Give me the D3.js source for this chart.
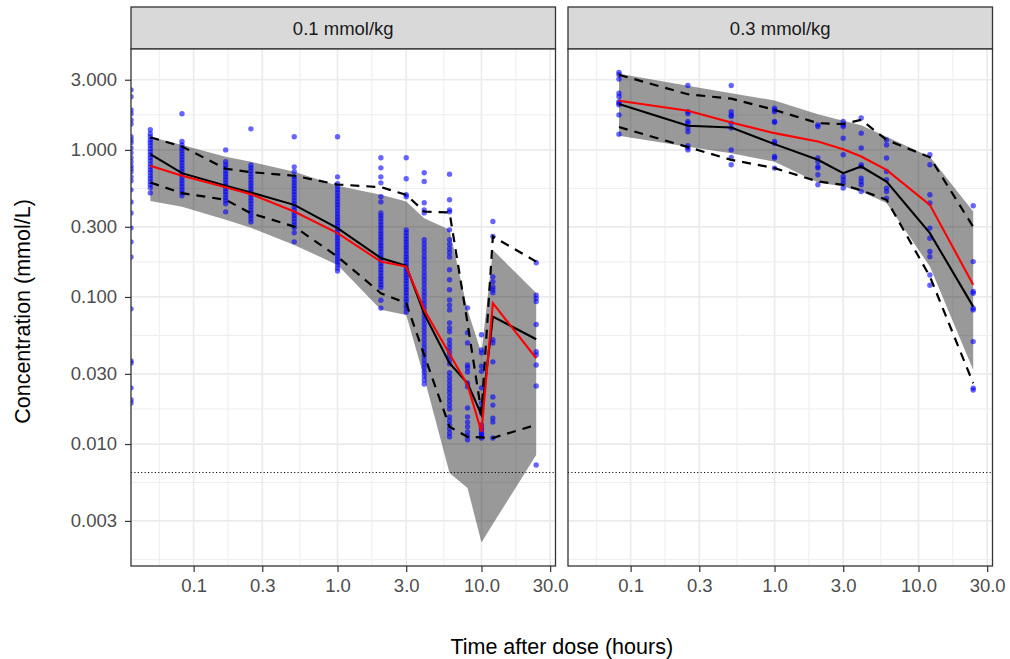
<!DOCTYPE html>
<html>
<head>
<meta charset="utf-8">
<script src="https://cdn.jsdelivr.net/npm/d3@7"></script>
<style>
  html, body { margin: 0; padding: 0; background: #ffffff; }
  svg { display: block; font-family: "Liberation Sans", Arial, Helvetica, sans-serif; }
</style>
</head>
<body>
<svg id="chart" width="1010" height="659"></svg>
<script>
// ---------------- data ----------------
const doseLabels = ["0.1 mmol/kg", "0.3 mmol/kg"];
const xTickValues = [0.1, 0.3, 1, 3, 10, 30];
const xTickLabels = ["0.1", "0.3", "1.0", "3.0", "10.0", "30.0"];
const yTickValues = [0.003, 0.01, 0.03, 0.1, 0.3, 1, 3];
const yTickLabels = ["0.003", "0.010", "0.030", "0.100", "0.300", "1.000", "3.000"];
const lloq = 0.0064;

// 0.1 mmol/kg : binned summaries
const binTimesLow     = [0.05, 0.083, 0.167, 0.25, 0.5, 1, 2, 3, 4, 6, 8, 10, 12, 24];
const obsMedianLow    = [0.936, 0.695, 0.57, 0.513, 0.423, 0.294, 0.184, 0.163, 0.0767, 0.0355, 0.0259, 0.0158, 0.0736, 0.0516];
const obsP05Low       = [0.60, 0.508, 0.458, 0.371, 0.301, 0.188, 0.106, 0.0907, 0.0403, 0.0131, 0.0112, 0.0111, 0.011, 0.0135];
const obsP95Low       = [1.22, 1.055, 0.744, 0.706, 0.667, 0.582, 0.558, 0.495, 0.381, 0.375, 0.0665, 0.0163, 0.258, 0.174];
const predMedianLow   = [0.78, 0.667, 0.558, 0.50, 0.381, 0.272, 0.174, 0.161, 0.0817, 0.041, 0.0252, 0.0121, 0.0907, 0.0383];
const predLowerLow    = [0.45, 0.41, 0.335, 0.295, 0.226, 0.165, 0.082, 0.0755, 0.0282, 0.00636, 0.00502, 0.00214, 0.00286, 0.00843];
const predUpperLow    = [1.23, 1.08, 0.90, 0.83, 0.71, 0.57, 0.495, 0.446, 0.343, 0.286, 0.0817, 0.0416, 0.209, 0.1066];

// 0.1 mmol/kg : observed concentrations by nominal time (0 = pre-dose)
const obsTimesLow = [0, 0.05, 0.083, 0.167, 0.25, 0.5, 1, 2, 3, 4, 6, 8, 10, 12, 24];
const obsConcLow = [
  [2.56, 2.30, 1.87, 1.76, 1.60, 1.50, 1.23, 1.17, 1.12, 1.03, 0.956, 0.884, 0.830, 0.779, 0.744, 0.710, 0.656, 0.616, 0.535, 0.443, 0.373, 0.295, 0.237, 0.187, 0.083, 0.0367, 0.0356, 0.0241, 0.0200, 0.0190],
  [1.37, 1.29, 1.23, 1.17, 1.12, 1.07, 1.02, 0.971, 0.926, 0.884, 0.843, 0.804, 0.767, 0.732, 0.699, 0.666, 0.636, 0.607, 0.579, 0.552, 0.510],
  [1.76, 1.14, 1.08, 1.03, 0.985, 0.94, 0.897, 0.856, 0.817, 0.779, 0.744, 0.71, 0.677, 0.646, 0.616, 0.588, 0.561, 0.535, 0.511, 0.487],
  [1.00, 0.83, 0.79, 0.755, 0.72, 0.687, 0.656, 0.626, 0.597, 0.57, 0.544, 0.519, 0.495, 0.472, 0.451, 0.43, 0.379],
  [1.39, 0.79, 0.755, 0.72, 0.687, 0.656, 0.626, 0.597, 0.57, 0.544, 0.519, 0.495, 0.472, 0.451, 0.43, 0.41, 0.391, 0.373, 0.356, 0.34, 0.324],
  [1.23, 0.767, 0.71, 0.656, 0.626, 0.597, 0.57, 0.544, 0.519, 0.495, 0.472, 0.451, 0.43, 0.41, 0.391, 0.373, 0.356, 0.34, 0.324, 0.309, 0.295, 0.273, 0.237],
  [1.23, 0.656, 0.588, 0.561, 0.535, 0.511, 0.487, 0.465, 0.443, 0.423, 0.404, 0.385, 0.367, 0.35, 0.334, 0.319, 0.304, 0.29, 0.277, 0.264, 0.252, 0.24, 0.229, 0.219, 0.209, 0.199, 0.19, 0.181, 0.173, 0.165, 0.157, 0.150],
  [0.884, 0.755, 0.656, 0.597, 0.48, 0.443, 0.373, 0.356, 0.34, 0.324, 0.309, 0.295, 0.281, 0.268, 0.256, 0.245, 0.233, 0.223, 0.213, 0.203, 0.194, 0.185, 0.177, 0.169, 0.161, 0.153, 0.146, 0.139, 0.133, 0.127, 0.121, 0.116, 0.095, 0.084],
  [0.884, 0.636, 0.495, 0.48, 0.286, 0.273, 0.26, 0.248, 0.237, 0.226, 0.216, 0.206, 0.196, 0.187, 0.179, 0.171, 0.163, 0.155, 0.148, 0.141, 0.135, 0.129, 0.123, 0.117, 0.112, 0.107, 0.102, 0.097, 0.093, 0.088, 0.084, 0.079],
  [0.70, 0.61, 0.437, 0.391, 0.373, 0.245, 0.23, 0.216, 0.203, 0.19, 0.179, 0.168, 0.158, 0.148, 0.139, 0.131, 0.123, 0.115, 0.108, 0.102, 0.0955, 0.0897, 0.0843, 0.0792, 0.0743, 0.0699, 0.0656, 0.0616, 0.0579, 0.0544, 0.0511, 0.048, 0.0451, 0.0423, 0.0398, 0.0373, 0.0351, 0.033, 0.0309, 0.029, 0.0273, 0.0256],
  [0.684, 0.458, 0.391, 0.379, 0.286, 0.245, 0.228, 0.213, 0.2, 0.187, 0.153, 0.131, 0.112, 0.0955, 0.088, 0.0817, 0.0667, 0.0616, 0.0579, 0.0511, 0.048, 0.0451, 0.0423, 0.0398, 0.0373, 0.0351, 0.0305, 0.0286, 0.0269, 0.0252, 0.0237, 0.0223, 0.0209, 0.0196, 0.0184, 0.0173, 0.0153, 0.0144, 0.0135, 0.0127, 0.0119, 0.0112],
  [0.0843, 0.0572, 0.0487, 0.0345, 0.033, 0.0309, 0.026, 0.0245, 0.0176, 0.0153, 0.0141, 0.0131, 0.0121, 0.0114, 0.0107],
  [0.0553, 0.0437, 0.0417, 0.0338, 0.0312, 0.0241, 0.019, 0.0176, 0.0163, 0.0135, 0.0129, 0.0125, 0.0119, 0.0117, 0.0113, 0.011],
  [0.326, 0.258, 0.137, 0.127, 0.117, 0.112, 0.107, 0.0512, 0.0487, 0.0362, 0.0209, 0.0184, 0.015, 0.0141, 0.011],
  [0.171, 0.103, 0.098, 0.093, 0.065, 0.0424, 0.0403, 0.0345, 0.0248, 0.0072]
];

// 0.3 mmol/kg : binned summaries
const binTimesHigh    = [0.083, 0.25, 0.5, 1, 2, 3, 4, 6, 12, 24];
const obsMedianHigh   = [2.05, 1.46, 1.42, 1.095, 0.856, 0.695, 0.771, 0.61, 0.2715, 0.086];
const obsP05High      = [1.43, 1.045, 0.856, 0.752, 0.61, 0.579, 0.53, 0.458, 0.1377, 0.0259];
const obsP95High      = [3.24, 2.39, 2.23, 1.87, 1.52, 1.50, 1.6, 1.17, 0.89, 0.30];
const predMedianHigh  = [2.16, 1.845, 1.535, 1.30, 1.14, 1.01, 0.902, 0.732, 0.423, 0.121];
const predLowerHigh   = [1.25, 1.05, 0.95, 0.83, 0.60, 0.564, 0.521, 0.435, 0.161, 0.0319];
const predUpperHigh   = [3.29, 2.73, 2.43, 2.17, 1.75, 1.58, 1.47, 1.23, 0.90, 0.381];

// 0.3 mmol/kg : observed concentrations by nominal time
const obsTimesHigh = [0.083, 0.25, 0.5, 1, 2, 3, 4, 6, 12, 24];
const obsConcHigh = [
  [3.36, 3.24, 3.03, 2.43, 2.31, 2.13, 2.08, 2.03, 1.73, 1.28],
  [2.74, 1.82, 1.76, 1.56, 1.52, 1.41, 1.33, 1.066, 1.033, 1.00],
  [2.74, 1.82, 1.73, 1.69, 1.52, 1.41, 1.00, 0.888, 0.792],
  [1.92, 1.87, 1.82, 1.56, 1.54, 1.14, 1.11, 0.902, 0.88, 0.752],
  [1.48, 1.44, 0.88, 0.834, 0.771, 0.752, 0.677, 0.579],
  [1.56, 1.48, 1.44, 1.20, 0.926, 0.659, 0.626, 0.594, 0.550],
  [1.65, 1.30, 1.03, 0.792, 0.771, 0.643, 0.610, 0.579, 0.521],
  [1.17, 1.08, 0.88, 0.713, 0.626, 0.550, 0.521, 0.470],
  [0.926, 0.792, 0.495, 0.435, 0.294, 0.251, 0.204, 0.188, 0.141, 0.120],
  [0.417, 0.174, 0.109, 0.106, 0.0839, 0.0817, 0.0497, 0.0240, 0.0233]
];

// ---------------- assemble panels ----------------
function bins(times, med, p05, p95, pmed, plo, phi) {
  return times.map((t, i) => ({ t, med: med[i], p05: p05[i], p95: p95[i], pmed: pmed[i], plo: plo[i], phi: phi[i] }));
}
function observations(times, conc) {
  const out = [];
  times.forEach((t, i) => conc[i].forEach(c => out.push({ t, c })));
  return out;
}
const panels = [
  { label: doseLabels[0],
    bins: bins(binTimesLow, obsMedianLow, obsP05Low, obsP95Low, predMedianLow, predLowerLow, predUpperLow),
    obs: observations(obsTimesLow, obsConcLow) },
  { label: doseLabels[1],
    bins: bins(binTimesHigh, obsMedianHigh, obsP05High, obsP95High, predMedianHigh, predLowerHigh, predUpperHigh),
    obs: observations(obsTimesHigh, obsConcHigh) }
];

// ---------------- layout ----------------
const W = 1010, H = 659;
const panelLefts = [131, 568];
const panelWidth = 424.5;
const panelTop = 49, panelBottom = 566;
const stripTop = 7;
const border = "#333333";
const gridColor = "#EBEBEB";
const tickFont = 18.5;
const titleFont = 21.5;

// log-scale limits with a 5% expansion in log space on each side
function expandLog([a, b], f = 0.05) {
  const la = Math.log10(a), lb = Math.log10(b), d = (lb - la) * f;
  return [Math.pow(10, la - d), Math.pow(10, lb + d)];
}
const allTimes = panels.flatMap(p => p.bins.map(b => b.t).concat(p.obs.map(o => o.t))).filter(t => t > 0);
const allConc = panels.flatMap(p => p.obs.map(o => o.c)
  .concat(p.bins.flatMap(b => [b.med, b.p05, b.p95, b.pmed, b.plo, b.phi])));
const xDomain = expandLog(d3.extent(allTimes));
const yDomain = expandLog(d3.extent(allConc));

const y = d3.scaleLog().domain(yDomain).range([panelBottom, panelTop]);

// ggplot-style minor breaks: midpoints between majors, extended one step past the ends
function minorBreaks(majors, domain) {
  const b = majors.map(Math.log10);
  const lim = domain.map(Math.log10);
  const step = b[1] - b[0];
  const ext = [b[0] - step, ...b, b[b.length - 1] + step];
  const mids = [];
  for (let i = 0; i < ext.length - 1; i++) mids.push((ext[i] + ext[i + 1]) / 2);
  return mids.filter(v => v >= lim[0] && v <= lim[1]).map(v => Math.pow(10, v));
}
const xMinor = minorBreaks(xTickValues, xDomain);
const yMinor = minorBreaks(yTickValues, yDomain);

const svg = d3.select("#chart");
svg.append("rect").attr("width", W).attr("height", H).attr("fill", "#ffffff");

panels.forEach((p, pi) => {
  const left = panelLefts[pi];
  const x = d3.scaleLog().domain(xDomain).range([left, left + panelWidth]);
  const g = svg.append("g");

  // strip
  g.append("rect")
    .attr("x", left).attr("y", stripTop)
    .attr("width", panelWidth).attr("height", panelTop - stripTop)
    .attr("fill", "#D9D9D9").attr("stroke", border).attr("stroke-width", 1.3);
  g.append("text")
    .attr("x", left + panelWidth / 2).attr("y", (stripTop + panelTop) / 2)
    .attr("text-anchor", "middle").attr("dominant-baseline", "central")
    .attr("font-size", tickFont).attr("fill", "#1A1A1A")
    .text(p.label);

  // clip region for the panel
  const clipId = "clip" + pi;
  g.append("clipPath").attr("id", clipId)
    .append("rect").attr("x", left).attr("y", panelTop)
    .attr("width", panelWidth).attr("height", panelBottom - panelTop);

  const body = g.append("g").attr("clip-path", `url(#${clipId})`);
  body.append("rect").attr("x", left).attr("y", panelTop)
    .attr("width", panelWidth).attr("height", panelBottom - panelTop).attr("fill", "#ffffff");

  // grid
  const grid = body.append("g");
  grid.selectAll(".xmin").data(xMinor).join("line")
    .attr("x1", d => x(d)).attr("x2", d => x(d)).attr("y1", panelTop).attr("y2", panelBottom)
    .attr("stroke", gridColor).attr("stroke-width", 0.9);
  grid.selectAll(".ymin").data(yMinor).join("line")
    .attr("y1", d => y(d)).attr("y2", d => y(d)).attr("x1", left).attr("x2", left + panelWidth)
    .attr("stroke", gridColor).attr("stroke-width", 0.9);
  grid.selectAll(".xmaj").data(xTickValues).join("line")
    .attr("x1", d => x(d)).attr("x2", d => x(d)).attr("y1", panelTop).attr("y2", panelBottom)
    .attr("stroke", gridColor).attr("stroke-width", 1.7);
  grid.selectAll(".ymaj").data(yTickValues).join("line")
    .attr("y1", d => y(d)).attr("y2", d => y(d)).attr("x1", left).attr("x2", left + panelWidth)
    .attr("stroke", gridColor).attr("stroke-width", 1.7);

  // prediction interval band
  const area = d3.area().x(d => x(d.t)).y0(d => y(d.plo)).y1(d => y(d.phi));
  body.append("path").datum(p.bins).attr("d", area)
    .attr("fill", "#000000").attr("fill-opacity", 0.4);

  // lower limit of quantification
  body.append("line")
    .attr("x1", left).attr("x2", left + panelWidth)
    .attr("y1", y(lloq)).attr("y2", y(lloq))
    .attr("stroke", "#000000").attr("stroke-width", 1.1)
    .attr("stroke-dasharray", "1.1,2.3");

  // observed concentrations (pre-dose samples sit on the left edge)
  body.append("g").selectAll("circle").data(p.obs).join("circle")
    .attr("cx", d => d.t > 0 ? x(d.t) : x.range()[0])
    .attr("cy", d => y(d.c))
    .attr("r", 2.7)
    .attr("fill", "#0000FF").attr("fill-opacity", 0.6);

  // observed percentiles and median, predicted median
  const lineOf = key => d3.line().x(d => x(d.t)).y(d => y(d[key]));
  body.append("path").datum(p.bins).attr("d", lineOf("p05"))
    .attr("fill", "none").attr("stroke", "#000").attr("stroke-width", 2.2).attr("stroke-dasharray", "9,7");
  body.append("path").datum(p.bins).attr("d", lineOf("p95"))
    .attr("fill", "none").attr("stroke", "#000").attr("stroke-width", 2.2).attr("stroke-dasharray", "9,7");
  body.append("path").datum(p.bins).attr("d", lineOf("med"))
    .attr("fill", "none").attr("stroke", "#000").attr("stroke-width", 2.1);
  body.append("path").datum(p.bins).attr("d", lineOf("pmed"))
    .attr("fill", "none").attr("stroke", "#FF0000").attr("stroke-width", 2.1);

  // panel border
  g.append("rect").attr("x", left).attr("y", panelTop)
    .attr("width", panelWidth).attr("height", panelBottom - panelTop)
    .attr("fill", "none").attr("stroke", border).attr("stroke-width", 1.3);

  // bottom axis
  const xAxis = d3.axisBottom(x).tickValues(xTickValues)
    .tickFormat((d, i) => xTickLabels[i]).tickSize(6).tickPadding(7);
  const gx = g.append("g").attr("transform", `translate(0,${panelBottom})`).call(xAxis);
  gx.select(".domain").remove();
  gx.selectAll(".tick line").attr("stroke", border).attr("stroke-width", 1.2);
  gx.selectAll(".tick text").attr("fill", "#4D4D4D").attr("font-size", tickFont)
    .attr("font-family", "'Liberation Sans', Arial, sans-serif");

  // left axis on the first panel only
  if (pi === 0) {
    const yAxis = d3.axisLeft(y).tickValues(yTickValues)
      .tickFormat((d, i) => yTickLabels[i]).tickSize(6).tickPadding(8);
    const gy = g.append("g").attr("transform", `translate(${left},0)`).call(yAxis);
    gy.select(".domain").remove();
    gy.selectAll(".tick line").attr("stroke", border).attr("stroke-width", 1.2);
    gy.selectAll(".tick text").attr("fill", "#4D4D4D").attr("font-size", tickFont)
      .attr("font-family", "'Liberation Sans', Arial, sans-serif");
  }
});

// axis titles
svg.append("text")
  .attr("x", (panelLefts[0] + panelLefts[1] + panelWidth) / 2).attr("y", 654)
  .attr("text-anchor", "middle").attr("font-size", titleFont).attr("fill", "#000")
  .text("Time after dose (hours)");
svg.append("text")
  .attr("transform", `translate(30,${(panelTop + panelBottom) / 2 + 4}) rotate(-90)`)
  .attr("text-anchor", "middle").attr("font-size", titleFont).attr("fill", "#000")
  .text("Concentration (mmol/L)");
</script>
</body>
</html>
